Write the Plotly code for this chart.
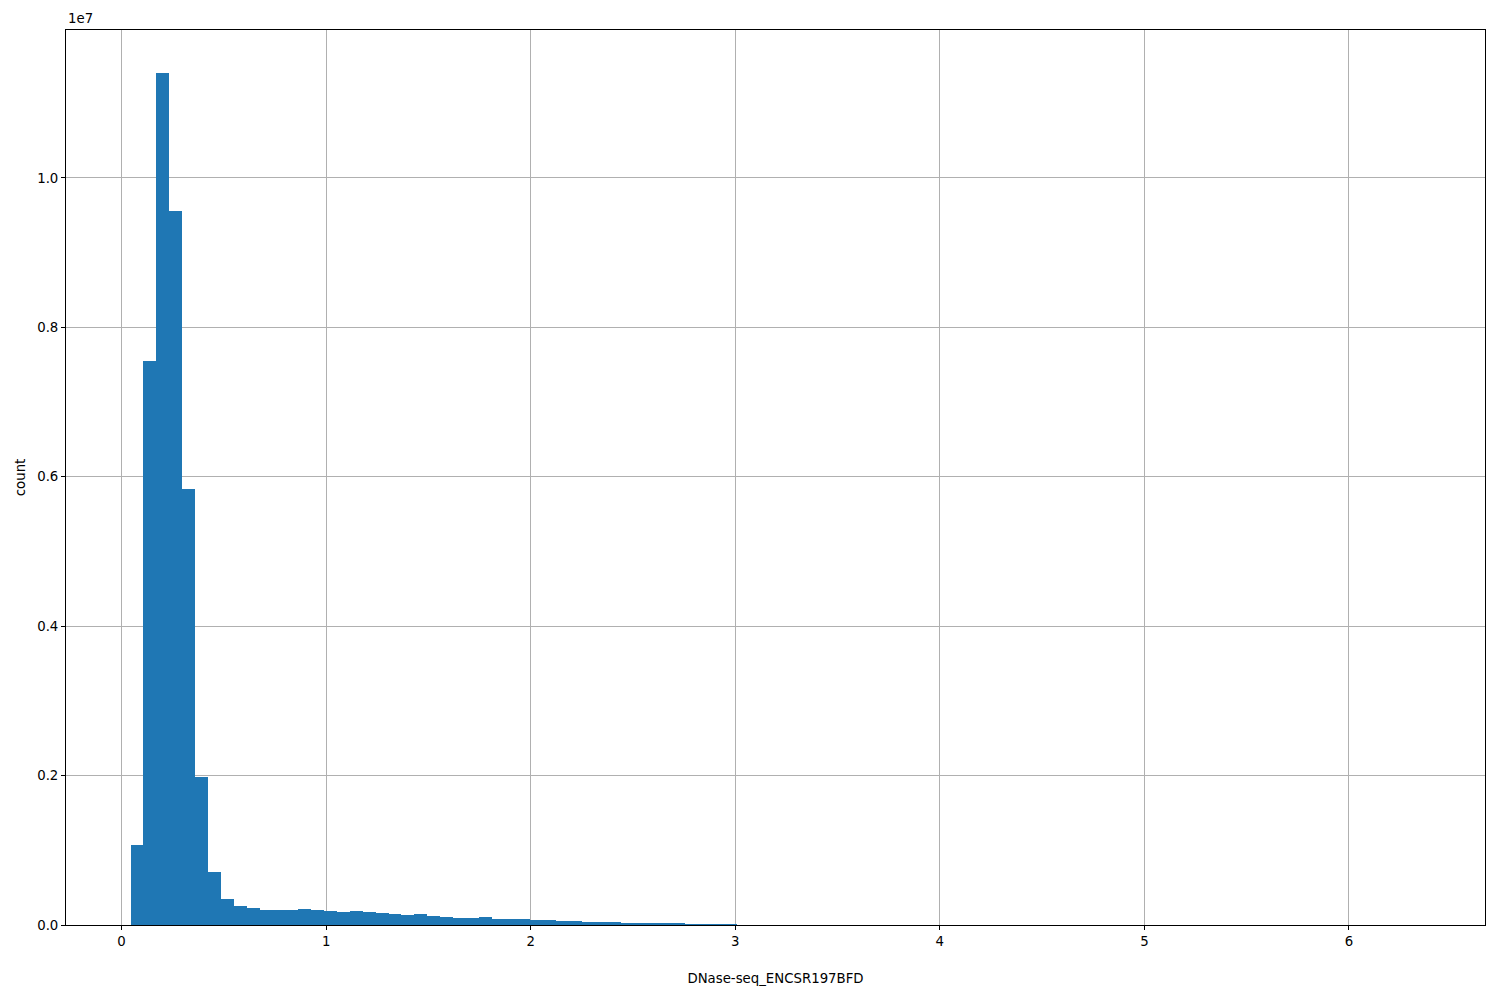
import plotly.graph_objects as go

# Histogram data (100 equal-width bins)
bin_start = 0.0436
bin_width = 0.06306
counts = [
    1.07e6, 7.55e6, 11.41e6, 9.56e6, 5.84e6, 1.985e6, 0.71e6, 0.348e6, 0.254e6, 0.228e6,
    0.200e6, 0.200e6, 0.200e6,
    0.214e6, 0.200e6, 0.188e6, 0.175e6, 0.188e6, 0.175e6, 0.160e6, 0.147e6, 0.134e6,
    0.147e6, 0.120e6, 0.107e6, 0.094e6, 0.094e6, 0.107e6, 0.080e6, 0.080e6, 0.078e6,
    0.067e6, 0.067e6, 0.054e6, 0.054e6, 0.040e6, 0.040e6, 0.040e6, 0.030e6, 0.030e6,
    0.030e6, 0.030e6, 0.015e6, 0.013e6, 0.012e6, 0.010e6, 0.009e6,
    6, 5, 5, 4, 4, 4, 3, 3, 3, 3,
    2, 2, 2, 2, 2, 2, 1, 1, 1, 1,
    1, 1, 1, 1, 1, 1, 1, 1, 1, 1,
    1, 0, 1, 0, 1, 0, 0, 1, 0, 0,
    1, 0, 0, 0, 1, 0, 0, 0, 0, 1,
    0, 0, 1,
]
x_title = "DNase-seq_ENCSR197BFD"
y_title = "count"
y_tick_vals = [0, 2e6, 4e6, 6e6, 8e6, 10e6]
y_tick_text = ["0.0", "0.2", "0.4", "0.6", "0.8", "1.0"]
x_tick_vals = [0, 1, 2, 3, 4, 5, 6]

n = len(counts)
centers = [bin_start + bin_width * (i + 0.5) for i in range(n)]
data_min = bin_start
data_max = bin_start + bin_width * n
pad = 0.05 * (data_max - data_min)
ymax = max(counts) * 1.05

fig = go.Figure(go.Bar(
    x=centers, y=counts, width=bin_width,
    marker=dict(color="#1f77b4", line=dict(width=0)),
    hoverinfo="x+y",
))

font = dict(family="DejaVu Sans", size=13.3, color="black")
fig.update_layout(
    width=1500, height=1000,
    margin=dict(l=58, r=23, t=22, b=83),
    paper_bgcolor="white", plot_bgcolor="white",
    font=font, bargap=0, showlegend=False,
    xaxis=dict(
        range=[data_min - pad, data_max + pad],
        tickvals=x_tick_vals, ticktext=[str(v) for v in x_tick_vals],
        showgrid=True, gridcolor="#b0b0b0", gridwidth=1,
        showline=True, linecolor="black", linewidth=1, mirror=True,
        ticks="outside", ticklen=4, tickcolor="black",
        zeroline=False,
        title=dict(text=x_title, standoff=25, font=font),
    ),
    yaxis=dict(
        range=[0, ymax],
        tickvals=y_tick_vals, ticktext=y_tick_text,
        showgrid=True, gridcolor="#b0b0b0", gridwidth=1,
        showline=True, linecolor="black", linewidth=1, mirror=True,
        ticks="outside", ticklen=4, tickcolor="black",
        zeroline=False,
        title=dict(text=y_title, standoff=8, font=font),
    ),
    annotations=[dict(
        text="1e7", xref="paper", yref="paper", x=0, y=1,
        xanchor="left", yanchor="bottom", showarrow=False, font=font, yshift=2,
    )],
)

fig.write_html("out.html")
